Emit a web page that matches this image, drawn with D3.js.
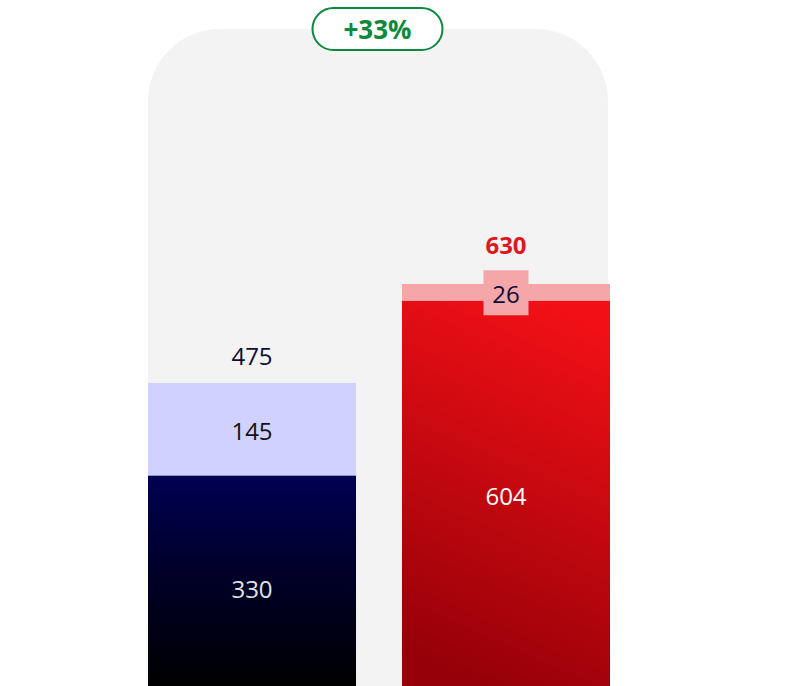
<!DOCTYPE html>
<html>
<head>
<meta charset="utf-8">
<script src="https://cdn.jsdelivr.net/npm/d3@7/dist/d3.min.js"></script>
<style>
  html, body { margin: 0; padding: 0; background: #ffffff; }
  svg { display: block; }
  text { font-family: "Open Sans", "Noto Sans", sans-serif; }
</style>
</head>
<body>
<svg id="chart" width="803" height="686"></svg>
<script>
// Two stacked columns: base value plus an increment on top
const periods = ["before", "after"];
const baseValues = [330, 604];
const topValues = [145, 26];
const totals = [475, 630];
const changeLabel = "+33%";

const W = 803, H = 686;
const svg = d3.select("#chart");

const x = d3.scaleBand().domain(periods).range([148, 610]).paddingInner(0.181).paddingOuter(0);
const y = d3.scaleLinear().domain([0, 1075]).range([H, 0]);

const defs = svg.append("defs");
const gNavy = defs.append("linearGradient").attr("id", "gNavy")
  .attr("x1", 0).attr("y1", 0).attr("x2", 0).attr("y2", 1);
gNavy.append("stop").attr("offset", "0%").attr("stop-color", "#000052");
gNavy.append("stop").attr("offset", "45%").attr("stop-color", "#00002a");
gNavy.append("stop").attr("offset", "100%").attr("stop-color", "#000000");

const gRed = defs.append("linearGradient").attr("id", "gRed")
  .attr("x1", 0.62).attr("y1", 0).attr("x2", 0.38).attr("y2", 1);
gRed.append("stop").attr("offset", "0%").attr("stop-color", "#f01016");
gRed.append("stop").attr("offset", "100%").attr("stop-color", "#960008");

// Rounded grey backdrop behind both columns
const bx0 = 148, bx1 = 608, by0 = 29, r = 72;
svg.append("path")
  .attr("d", `M${bx0},${H} L${bx0},${by0 + r} A${r},${r} 0 0 1 ${bx0 + r},${by0} L${bx1 - r},${by0} A${r},${r} 0 0 1 ${bx1},${by0 + r} L${bx1},${H} Z`)
  .attr("fill", "#f3f3f3");

const baseFill = ["url(#gNavy)", "url(#gRed)"];
const topFill = ["#d1d1ff", "#f4a6a8"];

// Base segments
svg.selectAll("rect.base").data(periods).join("rect")
  .attr("class", "base")
  .attr("x", d => x(d))
  .attr("width", x.bandwidth())
  .attr("y", (d, i) => y(baseValues[i]))
  .attr("height", (d, i) => y(0) - y(baseValues[i]))
  .attr("fill", (d, i) => baseFill[i]);

// Increment segments
svg.selectAll("rect.top").data(periods).join("rect")
  .attr("class", "top")
  .attr("x", d => x(d))
  .attr("width", x.bandwidth())
  .attr("y", (d, i) => y(baseValues[i] + topValues[i]))
  .attr("height", (d, i) => y(baseValues[i]) - y(baseValues[i] + topValues[i]))
  .attr("fill", (d, i) => topFill[i]);

// Label box for the thin increment on the second column
const cx1 = x(periods[1]) + x.bandwidth() / 2;
const midTop1 = y(baseValues[1] + topValues[1] / 2);
svg.append("rect")
  .attr("x", cx1 - 22.5).attr("width", 45)
  .attr("y", midTop1 - 22).attr("height", 45)
  .attr("fill", "#f4a6a8");

const fs = 24;
// Base labels
const baseLabelColor = ["#e2e2e2", "#ffffff"];
const baseDy = [9, 3];
svg.selectAll("text.base").data(periods).join("text")
  .attr("class", "base")
  .attr("x", d => x(d) + x.bandwidth() / 2)
  .attr("y", (d, i) => y(baseValues[i] / 2) + baseDy[i])
  .attr("dy", "0.35em")
  .attr("text-anchor", "middle")
  .attr("font-size", fs)
  .attr("fill", (d, i) => baseLabelColor[i])
  .text((d, i) => baseValues[i]);

// Increment labels
const topLabelColor = ["#111111", "#0b0b3a"];
svg.selectAll("text.top").data(periods).join("text")
  .attr("class", "top")
  .attr("x", d => x(d) + x.bandwidth() / 2)
  .attr("y", (d, i) => y(baseValues[i] + topValues[i] / 2) + 2)
  .attr("dy", "0.35em")
  .attr("text-anchor", "middle")
  .attr("font-size", fs)
  .attr("fill", (d, i) => topLabelColor[i])
  .text((d, i) => topValues[i]);

// Totals above the columns
const totalGap = [26, 38];
const totalColor = ["#0d0d3d", "#e0161e"];
const totalWeight = ["normal", "bold"];
svg.selectAll("text.total").data(periods).join("text")
  .attr("class", "total")
  .attr("x", d => x(d) + x.bandwidth() / 2)
  .attr("y", (d, i) => y(totals[i]) - totalGap[i])
  .attr("dy", "0.35em")
  .attr("text-anchor", "middle")
  .attr("font-size", fs)
  .attr("font-weight", (d, i) => totalWeight[i])
  .attr("fill", (d, i) => totalColor[i])
  .text((d, i) => totals[i]);

// Change badge
const badgeCx = 377.5, badgeCy = 29;
svg.append("rect")
  .attr("x", badgeCx - 65).attr("y", badgeCy - 21)
  .attr("width", 130).attr("height", 42)
  .attr("rx", 21).attr("ry", 21)
  .attr("fill", "#ffffff")
  .attr("stroke", "#0a8a3a").attr("stroke-width", 2);
svg.append("text")
  .attr("x", badgeCx).attr("y", badgeCy + 1)
  .attr("dy", "0.35em")
  .attr("text-anchor", "middle")
  .attr("font-size", 26)
  .attr("font-weight", "bold")
  .attr("fill", "#0a8a3a")
  .text(changeLabel);
</script>
</body>
</html>
